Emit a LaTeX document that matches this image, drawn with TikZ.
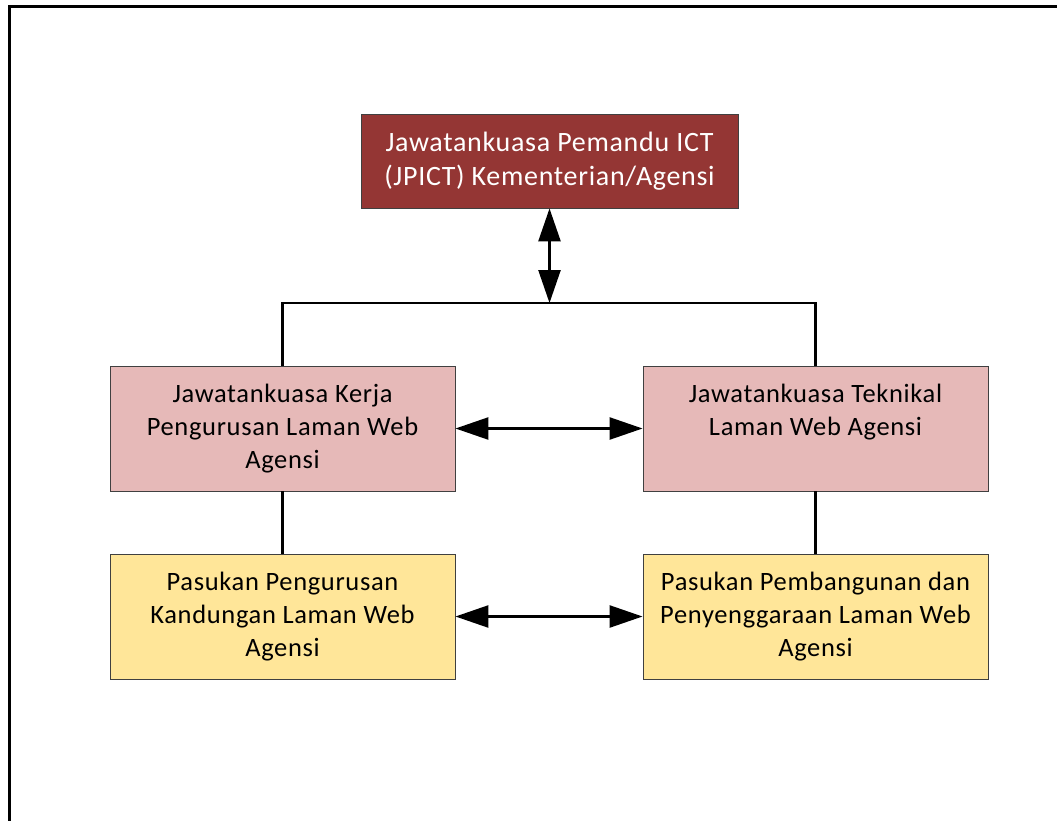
\documentclass[tikz,border=0pt]{standalone}
\usepackage{fontspec}
\setmainfont[LetterSpace=2.5]{Carlito}
\usetikzlibrary{arrows.meta}
\definecolor{steerred}{HTML}{943634}
\definecolor{workpink}{HTML}{E6B9B8}
\definecolor{teamgold}{HTML}{FFE699}
\definecolor{edgegray}{HTML}{404040}
\tikzset{
  unit/.style={draw=edgegray, line width=0.9pt, rectangle, inner sep=0pt,
    align=center, font=\fontsize{26.5}{33}\selectfont},
  steerbox/.style={unit, fill=steerred, text=white, minimum width=377pt, minimum height=94pt,
    font=\fontsize{28}{34}\selectfont},
  workbox/.style={unit, fill=workpink, minimum width=345pt, minimum height=125pt},
  teambox/.style={unit, fill=teamgold, minimum width=345pt, minimum height=125pt},
  link/.style={line width=2.5pt, black},
  twoway/.style={link, {Triangle[length=33pt,width=22pt]}-{Triangle[length=33pt,width=22pt]}}
}
\begin{document}
\begin{tikzpicture}[x=1pt,y=-1pt]
  \useasboundingbox (0,0) rectangle (1057,821);
  \clip (0,0) rectangle (1057,821);
  % outer frame (runs off the right and bottom edges)
  \draw[line width=3pt] (1070,6.5) -- (9,6.5) -- (9,840);

  \node[steerbox] (jpict) at (549.5,161) {Jawatankuasa Pemandu ICT\\(JPICT) Kementerian/Agensi};
  \node[workbox] (jkk) at (282.5,428.5) {Jawatankuasa Kerja\\Pengurusan Laman Web\\Agensi};
  \node[workbox] (jtk) at (815.5,428.5) {Jawatankuasa Teknikal\\Laman Web Agensi\\\vphantom{Ag}};
  \node[teambox] (ppk) at (282.5,616.5) {Pasukan Pengurusan\\Kandungan Laman Web\\Agensi};
  \node[teambox] (ppp) at (815.5,616.5) {Pasukan Pembangunan dan\\Penyenggaraan Laman Web\\Agensi};

  \coordinate (bus) at (549.5,303);

  \draw[twoway] (jpict.south) -- (bus);
  \draw[link] (jkk.north) -- (jkk.north |- bus) -- (jtk.north |- bus) -- (jtk.north);
  \draw[link] (jkk.south) -- (ppk.north);
  \draw[link] (jtk.south) -- (ppp.north);
  \draw[twoway] (jkk.east) -- (jtk.west);
  \draw[twoway] (ppk.east) -- (ppp.west);
\end{tikzpicture}
\end{document}
